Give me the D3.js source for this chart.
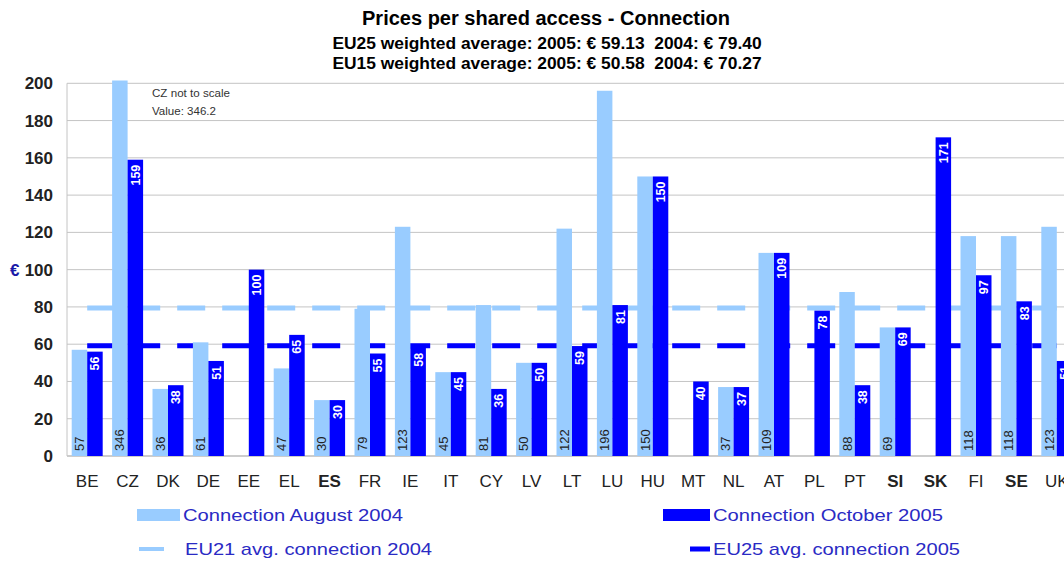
<!DOCTYPE html>
<html>
<head>
<meta charset="utf-8">
<script src="https://cdn.jsdelivr.net/npm/d3@7"></script>
<style>
  body { margin: 0; background: #fff; }
  text { font-family: "Liberation Sans", Arial, sans-serif; }
</style>
</head>
<body>
<div id="chart-area"></div>
<script>
// chart values
var countries = ["BE","CZ","DK","DE","EE","EL","ES","FR","IE","IT","CY","LV","LT","LU","HU","MT","NL","AT","PL","PT","SI","SK","FI","SE","UK"];
var conn2004 = [57, 346, 36, 61, null, 47, 30, 79, 123, 45, 81, 50, 122, 196, 150, null, 37, 109, null, 88, 69, null, 118, 118, 123];
var conn2005 = [56, 159, 38, 51, 100, 65, 30, 55, 58, 45, 36, 50, 59, 81, 150, 40, 37, 109, 78, 38, 69, 171, 97, 83, 51];
var avg2004 = 79.40;
var avg2005 = 59.13;
var yTicks = [0, 20, 40, 60, 80, 100, 120, 140, 160, 180, 200];
var capValue = 201.5; // CZ drawn not to scale
var boldLabels = ["ES", "SI", "SK", "SE"];

var light = "#99ccff", dark = "#0000ff";

var svg = d3.select("#chart-area")
    .append("svg")
        .attr("width", 1064)
        .attr("height", 563);

var plotLeft = 67, step = 40.4;
var plotTop = 83.3, plotBottom = 456;

var x = d3.scaleBand()
    .domain(countries)
    .range([plotLeft, plotLeft + countries.length * step])
    .paddingInner(0.233)
    .paddingOuter(0.1165);

var x1 = d3.scaleBand()
    .domain(["2004", "2005"])
    .range([0, x.bandwidth()]);

var y = d3.scaleLinear()
    .domain([0, 200])
    .range([plotBottom, plotTop]);

// titles
svg.append("text")
    .attr("x", 546).attr("y", 25)
    .attr("text-anchor", "middle")
    .attr("font-size", "20px").attr("font-weight", "bold")
    .text("Prices per shared access - Connection");

svg.append("text")
    .attr("x", 547).attr("y", 49)
    .attr("text-anchor", "middle")
    .attr("font-size", "17.4px").attr("font-weight", "bold")
    .style("white-space", "pre")
    .text("EU25 weighted average: 2005: € 59.13  2004: € 79.40");

svg.append("text")
    .attr("x", 547).attr("y", 69)
    .attr("text-anchor", "middle")
    .attr("font-size", "17.4px").attr("font-weight", "bold")
    .style("white-space", "pre")
    .text("EU15 weighted average: 2005: € 50.58  2004: € 70.27");

// grid
var g = svg.append("g");
g.selectAll("line.grid")
    .data(yTicks)
    .enter().append("line")
        .attr("class", "grid")
        .attr("x1", plotLeft).attr("x2", 1064)
        .attr("y1", function(d){ return y(d); })
        .attr("y2", function(d){ return y(d); })
        .attr("stroke", function(d){ return d === 0 ? "#999" : "#c4c4c4"; })
        .attr("stroke-width", 1);

g.append("line")
    .attr("x1", plotLeft).attr("x2", plotLeft)
    .attr("y1", y(200)).attr("y2", y(0))
    .attr("stroke", "#c4c4c4");

var yAxisCall = d3.axisLeft(y).tickValues(yTicks).tickSize(0).tickPadding(0);
var yAxis = svg.append("g")
    .attr("transform", "translate(53,0)")
    .call(yAxisCall);
yAxis.select(".domain").remove();
yAxis.selectAll("text")
    .attr("font-size", "17px")
    .attr("font-weight", "bold")
    .attr("fill", "#222")
    .attr("font-family", "\"Liberation Sans\", Arial, sans-serif");

svg.append("text")
    .attr("x", 10).attr("y", y(100) + 6)
    .attr("font-size", "17px").attr("font-weight", "bold")
    .attr("fill", "#1a1aa8")
    .text("€");

// x labels
svg.selectAll("text.xlab")
    .data(countries)
    .enter().append("text")
        .attr("class", "xlab")
        .attr("x", function(d){ return x(d) + x.bandwidth() / 2; })
        .attr("y", 487)
        .attr("text-anchor", "middle")
        .attr("font-size", "17px")
        .attr("font-weight", function(d){ return boldLabels.indexOf(d) >= 0 ? "bold" : "normal"; })
        .attr("fill", "#222")
        .text(function(d){ return d; });

// average lines (behind bars)
var first = countries[0], last = countries[countries.length - 1];
[[avg2004, light], [avg2005, dark]].forEach(function(a){
    svg.append("line")
        .attr("x1", x(first) + x.bandwidth() / 2)
        .attr("x2", x(last) + x.bandwidth() / 2)
        .attr("y1", y(a[0])).attr("y2", y(a[0]))
        .attr("stroke", a[1])
        .attr("stroke-width", 5)
        .attr("stroke-dasharray", "28,17");
});

var rows = countries.map(function(c, i){ return { c: c, v4: conn2004[i], v5: conn2005[i] }; });

var bars = svg.append("g");
bars.selectAll("rect.b4")
    .data(rows.filter(function(d){ return d.v4 !== null; }))
    .enter().append("rect")
        .attr("x", function(d){ return x(d.c) + x1("2004"); })
        .attr("y", function(d){ return y(Math.min(d.v4, capValue)); })
        .attr("width", x1.bandwidth())
        .attr("height", function(d){ return y(0) - y(Math.min(d.v4, capValue)); })
        .attr("fill", light);

bars.selectAll("rect.b5")
    .data(rows)
    .enter().append("rect")
        .attr("x", function(d){ return x(d.c) + x1("2005"); })
        .attr("y", function(d){ return y(d.v5); })
        .attr("width", x1.bandwidth())
        .attr("height", function(d){ return y(0) - y(d.v5); })
        .attr("fill", dark);

// value labels
bars.selectAll("text.l4")
    .data(rows.filter(function(d){ return d.v4 !== null; }))
    .enter().append("text")
        .attr("transform", function(d){
            return "translate(" + (x(d.c) + x1("2004") + x1.bandwidth() / 2 + 4.5) + "," + (y(0) - 5) + ") rotate(-90)";
        })
        .attr("font-size", "13px")
        .attr("fill", "#222")
        .text(function(d){ return Math.round(d.v4); });

bars.selectAll("text.l5")
    .data(rows)
    .enter().append("text")
        .attr("transform", function(d){
            return "translate(" + (x(d.c) + x1("2005") + x1.bandwidth() / 2 + 4.5) + "," + (y(d.v5) + 5) + ") rotate(-90)";
        })
        .attr("text-anchor", "end")
        .attr("font-size", "12.5px")
        .attr("font-weight", "bold")
        .attr("fill", "#fff")
        .text(function(d){ return Math.round(d.v5); });

// note for CZ
svg.append("text")
    .attr("x", 152).attr("y", 97)
    .attr("font-size", "10px").attr("fill", "#333")
    .attr("textLength", 78).attr("lengthAdjust", "spacingAndGlyphs")
    .text("CZ not to scale");
svg.append("text")
    .attr("x", 152).attr("y", 115)
    .attr("font-size", "10px").attr("fill", "#333")
    .attr("textLength", 64).attr("lengthAdjust", "spacingAndGlyphs")
    .text("Value: 346.2");

// legend
var legendColor = "#2a2ac4";
var legend = [
    { x: 137, tx: 183, y: 515, w: 43, h: 12, color: light, text: "Connection August 2004", len: 220 },
    { x: 663, tx: 713, y: 515, w: 47, h: 12, color: dark, text: "Connection October 2005", len: 230 },
    { x: 139, tx: 185, y: 549, w: 25, h: 4, color: light, text: "EU21 avg. connection 2004", len: 247 },
    { x: 690, tx: 713, y: 549, w: 20, h: 5, color: dark, text: "EU25 avg. connection 2005", len: 247 }
];
legend.forEach(function(l){
    svg.append("rect")
        .attr("x", l.x).attr("y", l.y - l.h / 2)
        .attr("width", l.w).attr("height", l.h)
        .attr("fill", l.color);
    svg.append("text")
        .attr("x", l.tx).attr("y", l.y + 6)
        .attr("font-size", "17px")
        .attr("fill", legendColor)
        .attr("textLength", l.len).attr("lengthAdjust", "spacingAndGlyphs")
        .text(l.text);
});
</script>
</body>
</html>
